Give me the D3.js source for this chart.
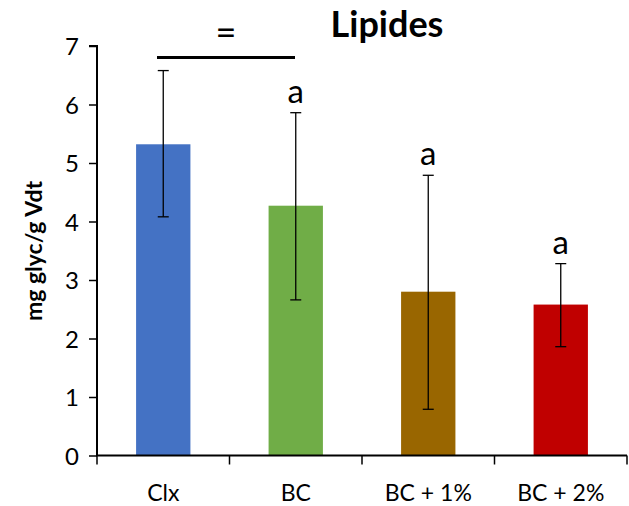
<!DOCTYPE html>
<html>
<head>
<meta charset="utf-8">
<script src="https://cdn.jsdelivr.net/npm/d3@7"></script>
<style>
  body { margin: 0; background: #fff; }
  svg text { font-family: Lato, "Open Sans", sans-serif; fill: #000; }
</style>
</head>
<body>
<script>
// data
var categories = ["Clx", "BC", "BC + 1%", "BC + 2%"];
var means = [5.32, 4.27, 2.80, 2.58];
var errLow = [4.08, 2.66, 0.79, 1.86];
var errHigh = [6.58, 5.86, 4.79, 3.28];
var letters = ["", "a", "a", "a"];
var colors = ["#4472C4", "#70AD47", "#996600", "#C00000"];
var yTicks = [0, 1, 2, 3, 4, 5, 6, 7];

var w = 629, h = 506;

var svg = d3.select("body").append("svg")
  .attr("width", w)
  .attr("height", h);

// scales
var x = d3.scaleBand()
  .domain(categories)
  .range([97, 627])
  .paddingInner(0.59)
  .paddingOuter(0.295);

var y = d3.scaleLinear()
  .domain([0, 7])
  .range([455.5, 46]);

// bars
svg.selectAll(".bar")
  .data(means)
  .enter()
  .append("rect")
  .attr("class", "bar")
  .attr("x", function(d, i) { return x(categories[i]); })
  .attr("y", function(d) { return y(d); })
  .attr("width", x.bandwidth())
  .attr("height", function(d) { return y(0) - y(d); })
  .attr("fill", function(d, i) { return colors[i]; });

// error bars
var cx = function(i) { return x(categories[i]) + x.bandwidth() / 2; };
var errs = svg.append("g").attr("stroke", "#000").attr("stroke-width", 1.3);
means.forEach(function(d, i) {
  errs.append("line")
    .attr("x1", cx(i)).attr("x2", cx(i))
    .attr("y1", y(errLow[i])).attr("y2", y(errHigh[i]));
  [errLow[i], errHigh[i]].forEach(function(v) {
    errs.append("line")
      .attr("x1", cx(i) - 5.5).attr("x2", cx(i) + 5.5)
      .attr("y1", y(v)).attr("y2", y(v));
  });
});

// letters above error bars
svg.selectAll(".letter")
  .data(letters)
  .enter()
  .append("text")
  .attr("class", "letter")
  .attr("x", function(d, i) { return cx(i); })
  .attr("y", function(d, i) { return y(errHigh[i]) - 10; })
  .attr("text-anchor", "middle")
  .style("font-size", "33px")
  .text(function(d) { return d; });

// y axis
var yAxis = d3.axisLeft(y)
  .tickValues(yTicks)
  .tickSize(8)
  .tickPadding(10)
  .tickFormat(d3.format("d"));

var gy = svg.append("g")
  .attr("transform", "translate(97,0)")
  .call(yAxis);
gy.select(".domain").attr("stroke-width", 2).attr("d", "M-8," + y(7) + "H0V" + y(0));
gy.selectAll(".tick line").attr("stroke-width", 1.5);
gy.selectAll(".tick text").style("font-size", "24px").attr("dy", "0.36em");

// x axis, ticks on category boundaries
var gx = svg.append("g");
gx.append("line")
  .attr("x1", 96).attr("x2", 627)
  .attr("y1", y(0)).attr("y2", y(0))
  .attr("stroke", "#000").attr("stroke-width", 2);
d3.range(categories.length + 1).forEach(function(i) {
  var bx = x.range()[0] + i * x.step();
  gx.append("line")
    .attr("x1", bx).attr("x2", bx)
    .attr("y1", y(0)).attr("y2", y(0) + 9)
    .attr("stroke", "#000").attr("stroke-width", 1.5);
});
gx.selectAll(".cat")
  .data(categories)
  .enter()
  .append("text")
  .attr("class", "cat")
  .attr("x", function(d) { return x(d) + x.bandwidth() / 2; })
  .attr("y", 501)
  .attr("text-anchor", "middle")
  .style("font-size", "23px")
  .text(function(d) { return d; });

// title
svg.append("text")
  .attr("x", 387)
  .attr("y", 37)
  .attr("text-anchor", "middle")
  .style("font-size", "36px")
  .style("font-weight", "bold")
  .text("Lipides");

// y label
svg.append("text")
  .attr("transform", "translate(42,251) rotate(-90)")
  .attr("text-anchor", "middle")
  .style("font-size", "23px")
  .style("font-weight", "bold")
  .text("mg glyc/g Vdt");

// significance bar between Clx and BC
svg.append("line")
  .attr("x1", 157).attr("x2", 295)
  .attr("y1", 57.5).attr("y2", 57.5)
  .attr("stroke", "#000").attr("stroke-width", 3);
svg.append("text")
  .attr("x", 226)
  .attr("y", 45)
  .attr("text-anchor", "middle")
  .style("font-size", "36px")
  .text("=");
</script>
</body>
</html>
